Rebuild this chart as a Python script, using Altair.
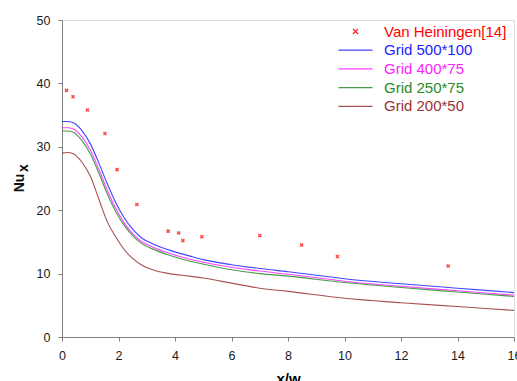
import altair as alt
import pandas as pd

# Experimental points (Van Heiningen [14])
exp_x = [0.16, 0.39, 0.90, 1.52, 1.95, 2.65, 3.76, 4.13, 4.28, 4.95, 7.0, 8.48, 9.75, 13.67]
exp_y = [38.9, 37.9, 35.8, 32.1, 26.4, 20.9, 16.7, 16.4, 15.2, 15.8, 16.0, 14.5, 12.7, 11.2]

# Simulated curves
grid_x = [0, 0.2, 0.4, 0.7, 1.0, 1.3, 1.6, 1.9, 2.2, 2.5, 2.8, 3.2, 3.8, 4.5, 5, 6, 7, 8, 10, 12, 14, 16]
g500 = [34.0, 34.0, 33.8, 32.6, 30.5, 27.5, 24.2, 21.2, 18.8, 17.0, 15.7, 14.7, 13.7, 12.8, 12.2, 11.4, 10.8, 10.3, 9.2, 8.4, 7.7, 7.0]
g400 = [33.0, 33.0, 32.8, 31.6, 29.5, 26.5, 23.2, 20.3, 18.0, 16.3, 15.1, 14.2, 13.2, 12.3, 11.8, 11.0, 10.4, 9.9, 8.8, 8.0, 7.3, 6.6]
g250 = [32.5, 32.5, 32.3, 31.0, 28.9, 25.9, 22.6, 19.8, 17.6, 16.0, 14.8, 13.9, 12.9, 12.0, 11.5, 10.6, 10.0, 9.6, 8.6, 7.8, 7.1, 6.4]
g200 = [29.0, 29.1, 28.9, 27.6, 25.4, 21.8, 18.2, 15.8, 13.8, 12.4, 11.4, 10.6, 10.0, 9.6, 9.3, 8.5, 7.7, 7.2, 6.1, 5.4, 4.8, 4.2]

series_names = ["Van Heiningen[14]", "Grid 500*100", "Grid 400*75", "Grid 250*75", "Grid 200*50"]
series_colors = ["#ff0000", "#2222ff", "#ff22ff", "#2a8a2a", "#993333"]

x_ticks = [0, 2, 4, 6, 8, 10, 12, 14, 16]
y_ticks = [0, 10, 20, 30, 40, 50]

rows = []
for name, vals in zip(series_names[1:], [g500, g400, g250, g200]):
    for xv, yv in zip(grid_x, vals):
        rows.append({"x": xv, "y": yv, "series": name})
lines_df = pd.DataFrame(rows)
exp_df = pd.DataFrame({"x": exp_x, "y": exp_y})

FONT = "Liberation Sans"
XPATH = "M-0.5,-0.5L0.5,0.5M-0.5,0.5L0.5,-0.5"
LPATH = "M-3.4,0L3.4,0"

xscale = alt.Scale(domain=[0, 16], nice=False, zero=False)
yscale = alt.Scale(domain=[0, 50], nice=False)

xaxis = alt.Axis(values=x_ticks, title="x/w", titleFontSize=15, titleFontWeight="bold",
                 titleFont=FONT, titleBaseline="top", titleY=34, labelFontSize=12.5,
                 labelFont=FONT, labelColor="#1a1a1a", labelPadding=8, tickSize=4,
                 tickColor="#808080", domainColor="#808080", grid=False, labelFlush=False)
yaxis = alt.Axis(values=y_ticks, title=None, labelFontSize=12.5, labelFont=FONT,
                 labelColor="#1a1a1a", labelPadding=8, tickSize=4, tickColor="#808080",
                 domainColor="#808080", grid=False)

legend = alt.Legend(
    orient="none", legendX=286, legendY=4, title=None, labelFont=FONT, labelFontSize=15,
    labelOffset=21, symbolSize=100, rowPadding=2.7, padding=0,
    symbolType=alt.ExprRef(expr="datum.label == 'Van Heiningen[14]' ? '" + XPATH + "' : '" + LPATH + "'"),
    symbolStrokeColor=alt.ExprRef(expr="scale('color', datum.value)"),
    symbolFillColor="transparent",
    symbolStrokeWidth=1.3,
    labelColor=alt.ExprRef(expr="scale('color', datum.value)"),
)

lines = alt.Chart(lines_df).mark_line(strokeWidth=1.1, interpolate="monotone", opacity=0.85).encode(
    x=alt.X("x:Q", scale=xscale, axis=xaxis),
    y=alt.Y("y:Q", scale=yscale, axis=yaxis),
    color=alt.Color("series:N", scale=alt.Scale(domain=series_names, range=series_colors), legend=legend),
)

points = alt.Chart(exp_df).mark_point(shape=XPATH, size=36, filled=False, strokeWidth=1.5, color="#ff0000").encode(
    x=alt.X("x:Q", scale=xscale),
    y=alt.Y("y:Q", scale=yscale),
)

ytitle_df = pd.DataFrame({"t": ["Nu"]})
ytitle = alt.Chart(ytitle_df).mark_text(angle=270, fontSize=14, fontWeight="bold", font=FONT,
                                         align="center", baseline="alphabetic", color="#111").encode(
    x=alt.value(-38), y=alt.value(163), text="t:N")
ysub_df = pd.DataFrame({"t": ["x"]})
ysub = alt.Chart(ysub_df).mark_text(angle=270, fontSize=14, fontWeight="bold", font=FONT,
                                     align="center", baseline="alphabetic", color="#111").encode(
    x=alt.value(-34), y=alt.value(148), text="t:N")

chart = alt.layer(lines, points, ytitle, ysub).properties(
    width=452, height=317,
    autosize=alt.AutoSizeParams(type="none"),
    padding={"left": 62, "top": 20, "right": 3, "bottom": 44},
).configure_view(stroke="#999999", strokeWidth=1).configure(background="white")

chart.save("out.html", embed_options={"renderer": "svg", "actions": False})
